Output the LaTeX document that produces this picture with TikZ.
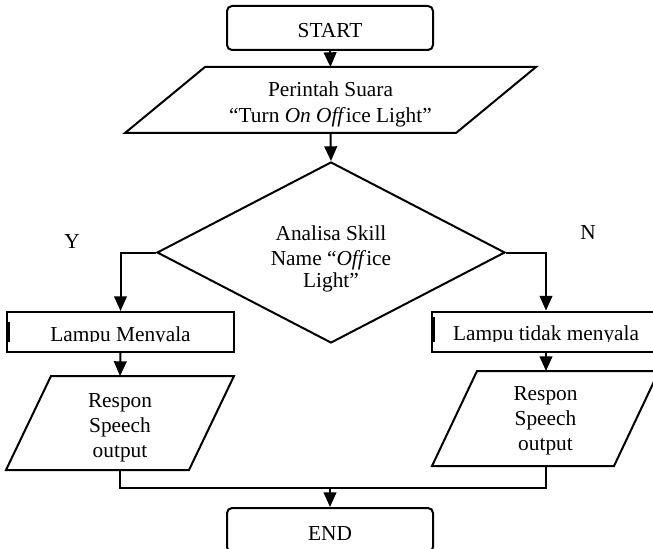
\documentclass[tikz,border=0pt]{standalone}
\usepackage{fontspec}
\setmainfont{Liberation Serif}
\usetikzlibrary{shapes.geometric,arrows.meta}

% parallelogram outline around a rectangular node: #1 node, #2 slant offset
\newcommand{\ioframe}[2]{%
  \draw[line] ([xshift=#2]#1.north west) -- (#1.north east)
    -- ([xshift=-#2]#1.south east) -- (#1.south west) -- cycle;}

\begin{document}
\begin{tikzpicture}[x=0.75pt,y=-0.75pt,
  font=\fontsize{16}{18.8}\selectfont,
  line/.style={line width=1.5pt,line join=miter},
  arr/.style={line,-{Triangle[length=11pt,width=9.5pt]}},
  term/.style={draw,line width=1.5pt,rounded corners=3.75pt,
    minimum width=154.5pt,minimum height=33pt,inner sep=0pt,
    text height=15pt,text depth=0pt},
  iobox/.style={rectangle,inner sep=0pt,outer sep=0.75pt,align=center},
  decision/.style={draw,line width=1.5pt,diamond,inner sep=0pt,
    minimum width=261pt,minimum height=135.75pt},
  procbox/.style={draw,line width=1.5pt,rectangle,inner sep=0pt,
    minimum height=30pt,text height=13.5pt,text depth=0pt},
  lbl/.style={inner sep=0pt}]

\useasboundingbox (0,0) rectangle (653,549);

% terminals
\node[term] (start) at (330,28) {START};
\node[term] (end) at (330,530) {END};

% voice command input
\node[iobox,minimum width=306.75pt,minimum height=48pt,text height=36.5pt]
  (cmd) at (330.5,100)
  {Perintah Suara\\``Turn \textit{On Off}ice Light''};
\ioframe{cmd}{60pt}

% decision: outline and its centred question
\node[decision] (dec) at (331,252.5) {};
\node[lbl,align=center,text height=56pt] (decq) at (dec.center)
  {Analisa Skill\\Name ``\textit{Off}ice\\[-2.5pt]Light''};

% lamp states
\node[procbox,minimum width=170.25pt] (on) at (120.5,332) {Lampu Menyala};
\node[procbox,minimum width=171pt] (off) at (546,331.5) {Lampu tidak menyala};

% text boxes clip the descenders of their single line
\fill[white] (9,342.3) rectangle (232,350.2);
\fill[white] (434,342.3) rectangle (653,349.7);
\draw[line width=2.4pt] (8.5,322) -- (8.5,342);
\draw[line width=2.4pt] (433.5,317) -- (433.5,342);

% speech responses
\node[iobox,minimum width=169.5pt,minimum height=69pt,text height=55.5pt]
  (resY) at (120,423) {Respon\\Speech\\output};
\ioframe{resY}{33.75pt}
\node[iobox,minimum width=168.75pt,minimum height=69.75pt,text height=51.5pt]
  (resN) at (545.5,418.5) {Respon\\Speech\\output};
\ioframe{resN}{33.75pt}

% branch labels
\node[lbl] (yes) at (72,242) {Y};
\node[lbl] (no) at (588,233) {N};

% connectors
\draw[arr] (start.south) -- (cmd.north);
\draw[arr] (cmd.south) -- (dec.north);
\draw[arr] (dec.west) -| (on.north);
\draw[arr] (dec.east) -| (off.north);
\draw[arr] (on.south) -- (resY.north);
\draw[arr] (off.south) -- (off.south |- resN.north);
\coordinate (join) at (330,488);
\draw[line] (resY.south) |- (join);
\draw[line] (resN.south) |- (join);
\draw[arr] (join) -- (end.north);
\end{tikzpicture}
\end{document}
